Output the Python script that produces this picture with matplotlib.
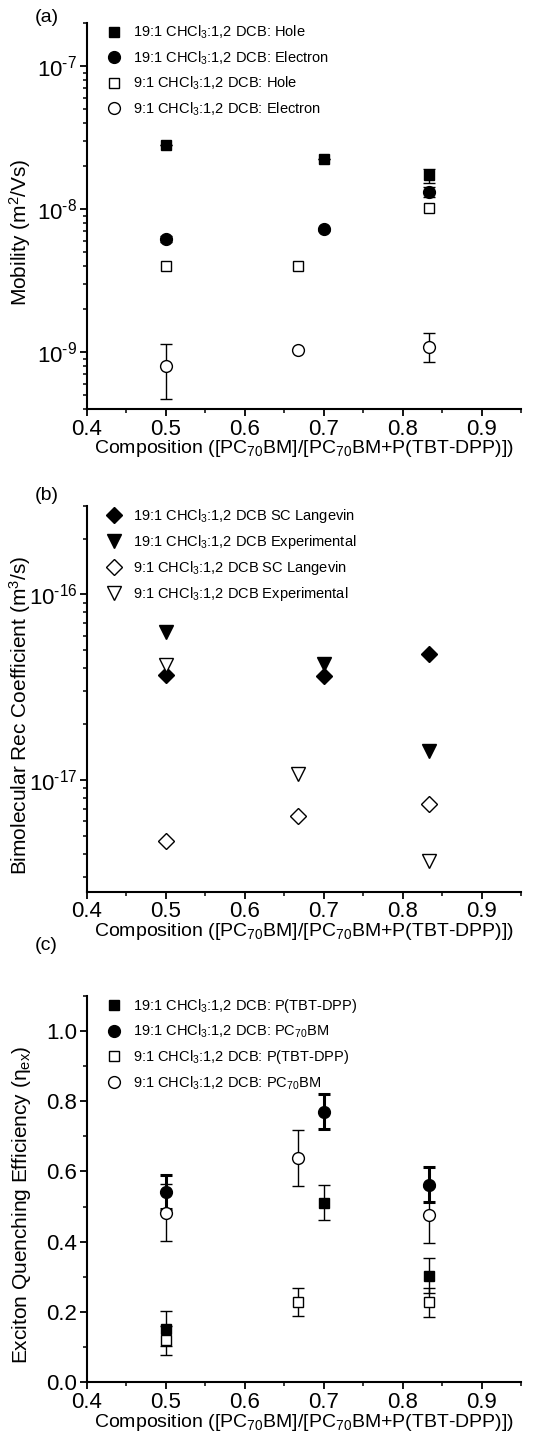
import matplotlib.pyplot as plt
import numpy as np
from matplotlib.ticker import MultipleLocator, LogLocator, NullFormatter, FuncFormatter

plt.rcParams['font.family'] = ['Liberation Sans', 'DejaVu Sans']
plt.rcParams['mathtext.fontset'] = 'custom'
plt.rcParams['mathtext.rm'] = 'Liberation Sans'
plt.rcParams['mathtext.it'] = 'Liberation Sans:italic'
plt.rcParams['mathtext.default'] = 'regular'

# (a) mobility
xa = [0.5, 0.7, 0.833]
hole19 = [2.8e-8, 2.24e-8, 1.72e-8]
hole19_err = [0, 0, 0.2e-8]
elec19 = [6.2e-9, 7.2e-9, 1.32e-8]
elec19_err = [0.3e-9, 0.2e-9, 0.1e-8]
xa9 = [0.5, 0.667, 0.833]
hole9 = [4.0e-9, 4.0e-9, 1.02e-8]
elec9 = [8.0e-10, 1.04e-9, 1.09e-9]
elec9_lo = [3.3e-10, 0, 2.4e-10]
elec9_hi = [3.3e-10, 0, 2.6e-10]

# (b) bimolecular recombination
xb = [0.5, 0.7, 0.833]
lang19 = [3.7e-17, 3.65e-17, 4.75e-17]
exp19 = [6.3e-17, 4.2e-17, 1.44e-17]
xb9 = [0.5, 0.667, 0.833]
lang9 = [4.7e-18, 6.37e-18, 7.45e-18]
exp9 = [4.17e-17, 1.08e-17, 3.65e-18]

# (c) exciton quenching
xc = [0.5, 0.7, 0.833]
poly19 = [0.152, 0.511, 0.303]
poly19_err = [0.05, 0.05, 0.05]
pcbm19 = [0.541, 0.770, 0.562]
pcbm19_err = [0.049, 0.05, 0.05]
xc9 = [0.5, 0.667, 0.833]
poly9 = [0.119, 0.228, 0.227]
poly9_err = [0.041, 0.04, 0.041]
pcbm9 = [0.482, 0.638, 0.475]
pcbm9_err = [0.081, 0.08, 0.08]

xlab = 'Composition ([PC$_{70}$BM]/[PC$_{70}$BM+P(TBT-DPP)])'

fig = plt.figure(figsize=(5.56, 14.37), dpi=100)
ax1 = fig.add_axes([0.1565, 0.7154, 0.781, 0.2686])
ax2 = fig.add_axes([0.1565, 0.3795, 0.781, 0.2684])
ax3 = fig.add_axes([0.1565, 0.0381, 0.781, 0.2690])


def style(ax):
    ax.spines['top'].set_visible(False)
    ax.spines['right'].set_visible(False)
    ax.spines['left'].set_linewidth(1.5)
    ax.spines['bottom'].set_linewidth(1.5)
    ax.set_xlim(0.4, 0.95)
    ax.xaxis.set_major_locator(MultipleLocator(0.1))
    ax.xaxis.set_minor_locator(MultipleLocator(0.05))
    ax.tick_params(which='major', direction='out', length=5, width=1.3, labelsize=16, pad=2)
    ax.tick_params(which='minor', direction='out', length=3, width=1.1)
    ax.set_xlabel(xlab, fontsize=14, labelpad=-1)
    ax.yaxis.set_label_coords(-0.125, 0.458)


def pts(ax, x, y, yerr, mk, ms, filled, label, lw=1.0):
    if yerr is not None:
        ax.errorbar(x, y, yerr=yerr, fmt='none', ecolor='black', elinewidth=lw,
                    capsize=4.5, capthick=lw)
    ax.plot(x, y, mk, ms=ms, mfc='black' if filled else 'white', mec='black',
            mew=1.0, linestyle='none', label=label)


# panel a
ax1.set_yscale('log')
pts(ax1, xa, hole19, hole19_err, 's', 7.5, True, '19:1 CHCl$_3$:1,2 DCB: Hole')
pts(ax1, xa, elec19, elec19_err, 'o', 8.5, True, '19:1 CHCl$_3$:1,2 DCB: Electron')
pts(ax1, xa9, hole9, None, 's', 7.5, False, '9:1 CHCl$_3$:1,2 DCB: Hole')
pts(ax1, xa9, elec9, [elec9_lo, elec9_hi], 'o', 8.5, False, '9:1 CHCl$_3$:1,2 DCB: Electron')
ax1.set_ylim(4e-10, 2e-7)
ax1.set_ylabel('Mobility (m$^2$/Vs)', fontsize=15)

# panel b
ax2.set_yscale('log')
pts(ax2, xb, lang19, None, 'D', 8.5, True, '19:1 CHCl$_3$:1,2 DCB SC Langevin')
pts(ax2, xb, exp19, None, 'v', 9.5, True, '19:1 CHCl$_3$:1,2 DCB Experimental')
pts(ax2, xb9, lang9, None, 'D', 8.5, False, '9:1 CHCl$_3$:1,2 DCB SC Langevin')
pts(ax2, xb9, exp9, None, 'v', 9.5, False, '9:1 CHCl$_3$:1,2 DCB Experimental')
ax2.set_ylim(2.5e-18, 3e-16)
ax2.set_ylabel('Bimolecular Rec Coefficient (m$^3$/s)', fontsize=15)

# panel c
pts(ax3, xc, poly19, poly19_err, 's', 7.5, True, '19:1 CHCl$_3$:1,2 DCB: P(TBT-DPP)')
pts(ax3, xc, pcbm19, pcbm19_err, 'o', 8.5, True, '19:1 CHCl$_3$:1,2 DCB: PC$_{70}$BM', lw=2.2)
pts(ax3, xc9, poly9, poly9_err, 's', 7.5, False, '9:1 CHCl$_3$:1,2 DCB: P(TBT-DPP)')
pts(ax3, xc9, pcbm9, pcbm9_err, 'o', 8.5, False, '9:1 CHCl$_3$:1,2 DCB: PC$_{70}$BM')
ax3.set_ylim(0, 1.1)
ax3.yaxis.set_major_locator(MultipleLocator(0.2))
ax3.yaxis.set_minor_locator(MultipleLocator(0.1))
ax3.yaxis.set_major_formatter(plt.FormatStrFormatter('%.1f'))
ax3.set_ylabel('Exciton Quenching Efficiency ($\\eta_{ex}$)', fontsize=15)

for ax in (ax1, ax2):
    ax.yaxis.set_major_locator(LogLocator(base=10, numticks=10))
    ax.yaxis.set_minor_locator(LogLocator(base=10, subs=np.arange(2, 10), numticks=20))
    ax.yaxis.set_minor_formatter(NullFormatter())
    ax.yaxis.set_major_formatter(FuncFormatter(
        lambda v, p: '10$^{\\text{%d}}$' % round(np.log10(v))))

for ax in (ax1, ax2, ax3):
    style(ax)
    ax.legend(loc='upper left', frameon=False, fontsize=10.5, handletextpad=0.8,
              borderaxespad=0.2, labelspacing=0.55, handlelength=1.0,
              bbox_to_anchor=(0.025, 1.02))

fig.text(0.062, 0.985, '(a)', fontsize=14)
fig.text(0.062, 0.652, '(b)', fontsize=14)
fig.text(0.062, 0.339, '(c)', fontsize=14)

fig.savefig('out.png', dpi=100)
